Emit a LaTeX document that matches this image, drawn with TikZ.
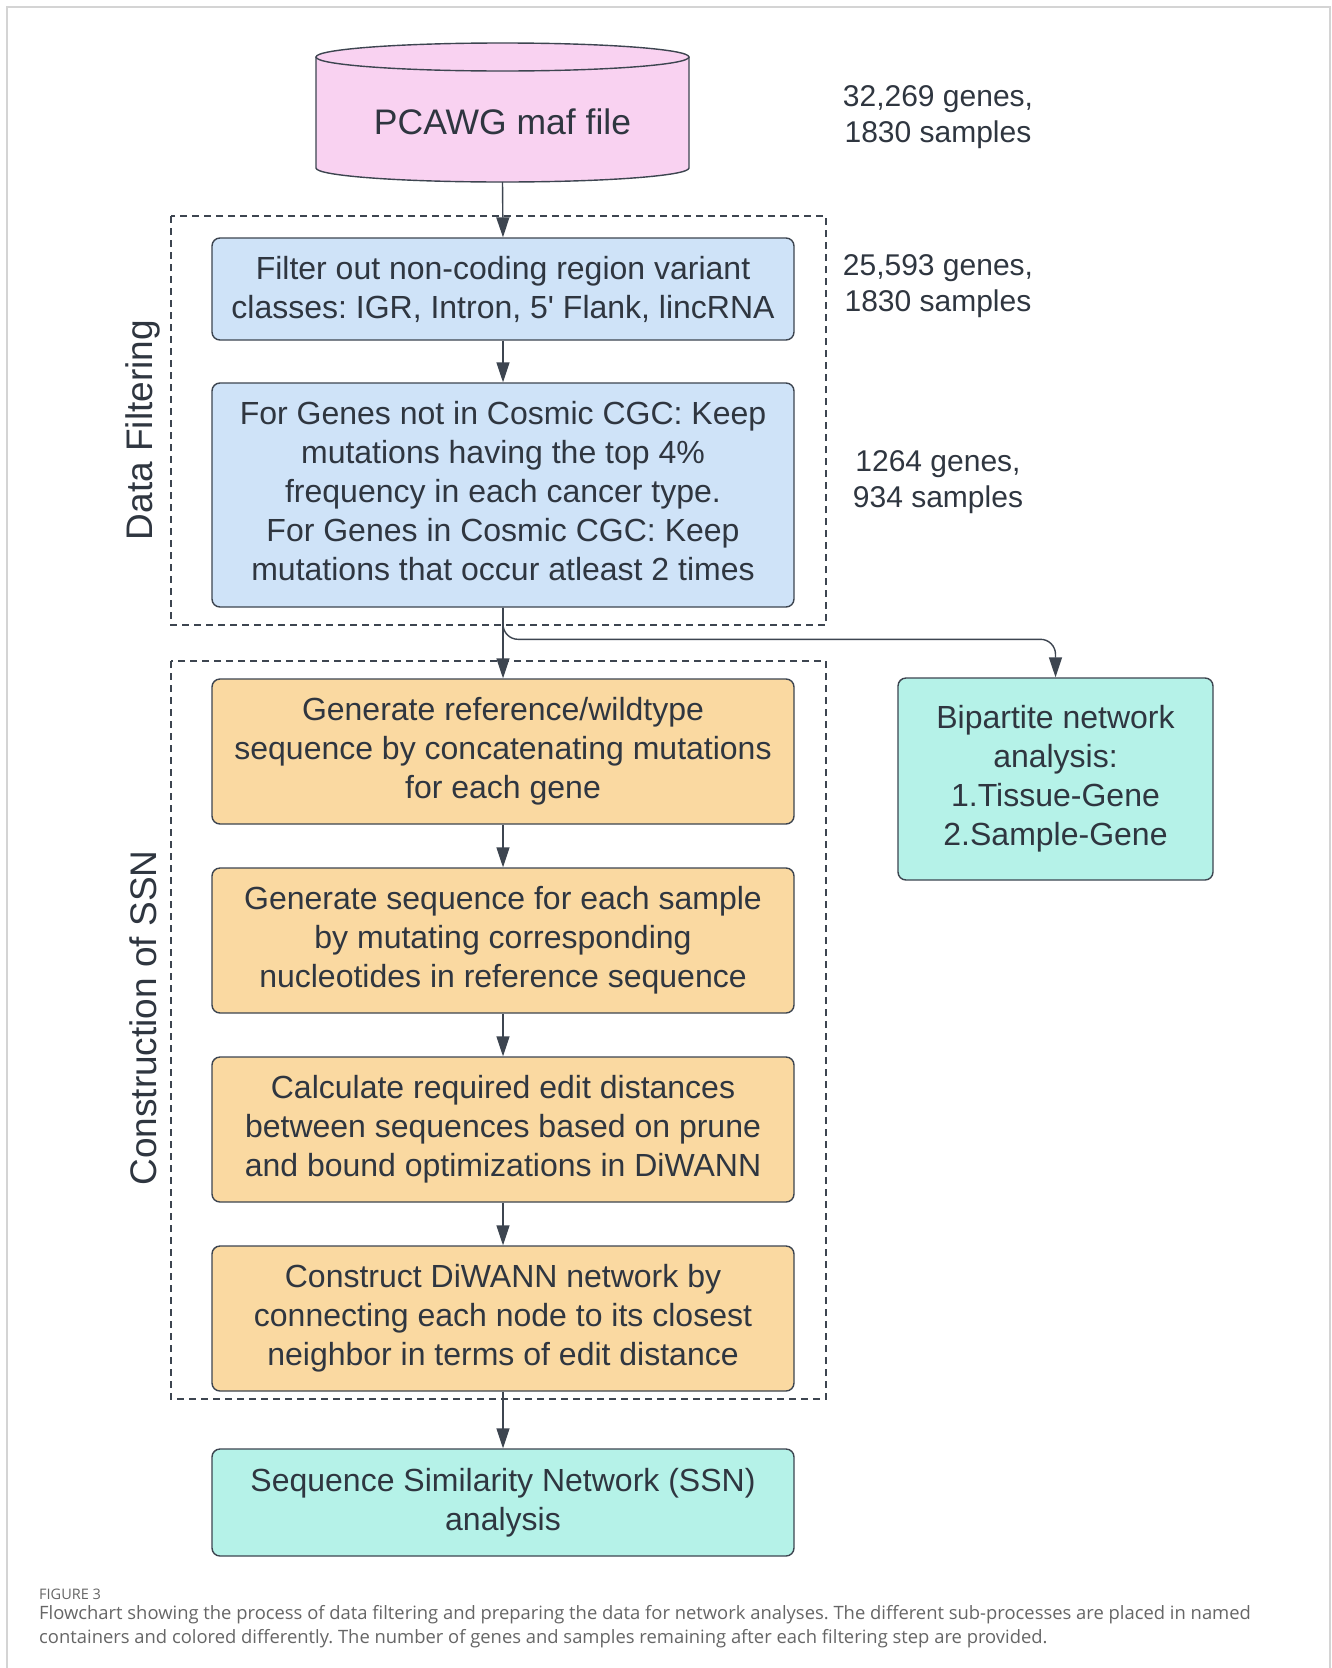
\documentclass[tikz,border=0pt]{standalone}
\usepackage{fontspec}
\setmainfont{Liberation Sans}
\newfontfamily\capfont{Open Sans}
\usetikzlibrary{arrows.meta,calc}
\definecolor{edgec}{HTML}{3D4550}
\definecolor{txtc}{HTML}{2F3640}
\definecolor{pinkc}{HTML}{F9D2F1}
\definecolor{bluec}{HTML}{CFE3F8}
\definecolor{orangec}{HTML}{FAD9A1}
\definecolor{tealc}{HTML}{B5F2E8}
\definecolor{capc}{HTML}{666666}
\definecolor{framec}{HTML}{D4D4D4}
\frenchspacing
\tikzset{
  procbox/.style={draw=edgec, line width=1.4pt, rounded corners=8pt, align=center,
    inner sep=0pt, text=txtc, font=\fontsize{32}{39}\selectfont},
  bluebox/.style={procbox, fill=bluec, minimum width=582pt},
  orangebox/.style={procbox, fill=orangec, minimum width=582pt, minimum height=145pt},
  tealbox/.style={procbox, fill=tealc},
  arr/.style={draw=edgec, line width=1.4pt, -{Triangle[width=13pt,length=20pt]}},
  container/.style={draw=edgec, line width=2pt, dash pattern=on 7pt off 5pt},
  sidetext/.style={align=center, text=txtc, font=\fontsize{30}{36}\selectfont},
  grouplabel/.style={rotate=90, text=txtc, font=\fontsize{37}{44}\selectfont},
}
\begin{document}
\begin{tikzpicture}[x=1pt,y=-1pt]
\useasboundingbox (0,0) rectangle (1331,1668);
\fill[white] (0,0) rectangle (1331,1668);
\draw[framec, line width=2pt] (7,1668) -- (7,7) -- (1330,7) -- (1330,1668);

% containers
\draw[container] (171,216) rectangle (826,625);
\draw[container] (171,661) rectangle (826,1399);
\node[grouplabel] (lblfilter) at (143,430) {Data Filtering};
\node[grouplabel] (lblssn) at (143,1018) {Construction of SSN};

% cylinder
\fill[pinkc] (316,57) -- (316,168) arc[start angle=180, end angle=360, x radius=186.5pt, y radius=14pt]
  -- (689,57) arc[start angle=0, end angle=180, x radius=186.5pt, y radius=14pt] -- cycle;
\draw[edgec, line width=1.4pt] (316,57) -- (316,168) arc[start angle=180, end angle=360, x radius=186.5pt, y radius=14pt] -- (689,57);
\draw[edgec, line width=1.4pt] (502.5,57) ellipse[x radius=186.5pt, y radius=14pt];
\node[text=txtc, font=\fontsize{35.5}{42}\selectfont] (pcawg) at (502.5,122) {PCAWG maf file};
\coordinate (pcawgb) at (502.5,182);

% boxes
\node[bluebox, minimum height=102pt] (filt1) at (503,289)
  {Filter out non-coding region variant\\classes: IGR, Intron, 5\textquotesingle\ Flank, lincRNA};
\node[bluebox, minimum height=224pt] (filt2) at (503,495)
  {\raisebox{4pt}[\height][\depth]{\parbox{560pt}{\centering For Genes not in Cosmic CGC: Keep\\mutations having the top 4\%\\frequency in each cancer type.\\For Genes in Cosmic CGC: Keep\\mutations that occur atleast 2 times}}};
\node[orangebox] (gen1) at (503,751.5)
  {Generate reference/wildtype\\sequence by concatenating mutations\\for each gene};
\node[orangebox] (gen2) at (503,940.5)
  {Generate sequence for each sample\\by mutating corresponding\\nucleotides in reference sequence};
\node[orangebox] (calc) at (503,1129.5)
  {Calculate required edit distances\\between sequences based on prune\\and bound optimizations in DiWANN};
\node[orangebox] (constr) at (503,1318.5)
  {Construct DiWANN network by\\connecting each node to its closest\\neighbor in terms of edit distance};
\node[tealbox, minimum width=315pt, minimum height=202pt] (bip) at (1055.5,779)
  {Bipartite network\\analysis:\\1.Tissue-Gene\\2.Sample-Gene};
\node[tealbox, minimum width=582pt, minimum height=107pt] (ssn) at (503,1502.5)
  {Sequence Similarity Network (SSN)\\analysis};

% side notes
\node[sidetext] (n1) at (938,117) {32,269 genes,\\1830 samples};
\node[sidetext] (n2) at (938,286) {25,593 genes,\\1830 samples};
\node[sidetext] (n3) at (938,482) {1264 genes,\\934 samples};

% connectors
\draw[arr] (pcawgb) -- (filt1.north);
\draw[arr] (filt1.south) -- (filt2.north);
\draw[arr] (filt2.south) -- (gen1.north);
\draw[arr, rounded corners=15pt] (filt2.south) |- ($(bip.north)+(0,38pt)$) -- (bip.north);
\draw[arr] (gen1.south) -- (gen2.north);
\draw[arr] (gen2.south) -- (calc.north);
\draw[arr] (calc.south) -- (constr.north);
\draw[arr] (constr.south) -- (ssn.north);

% caption
\node[anchor=west, inner sep=0pt, text=capc, font=\capfont\fontsize{14.5}{17}\selectfont] (figlbl) at (39,1594) {FIGURE 3};
\node[anchor=north west, align=left, inner sep=0pt, text=capc, font=\capfont\fontsize{18.4}{24}\selectfont] (cap) at (39,1605)
  {Flowchart showing the process of data filtering and preparing the data for network analyses. The different sub-processes are placed in named\\
   containers and colored differently. The number of genes and samples remaining after each filtering step are provided.};
\end{tikzpicture}
\end{document}
